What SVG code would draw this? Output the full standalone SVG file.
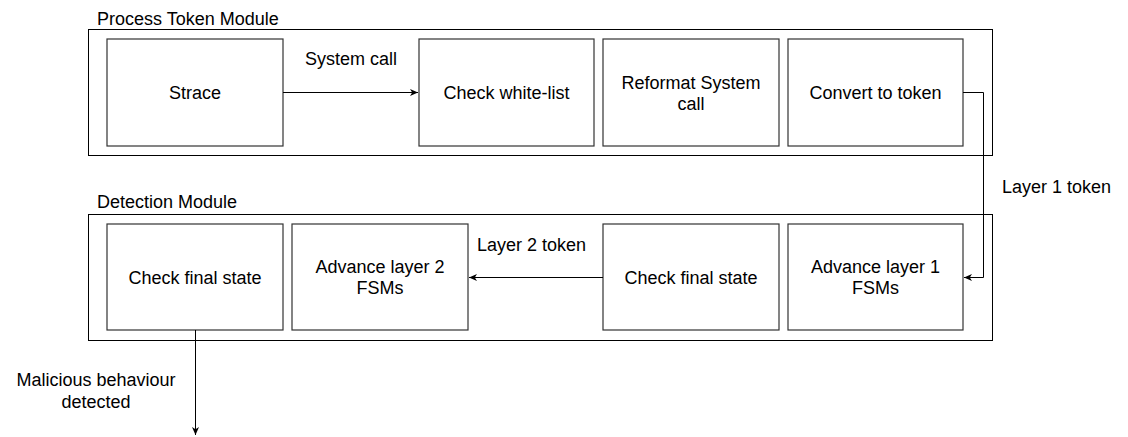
<svg xmlns="http://www.w3.org/2000/svg" width="1128" height="437" viewBox="0 0 1128 437">
  <style>
    text { font-family: "Liberation Sans", Arial, Helvetica, sans-serif; font-size: 18px; fill: #000; }
    .mid { text-anchor: middle; }
    .module { fill: none; stroke: #000; stroke-width: 1; }
    .box { fill: #fff; stroke: #333; stroke-width: 1.2; }
    .edge { fill: none; stroke: #000; stroke-width: 1; }
  </style>
  <defs>
    <marker id="arrow" markerUnits="userSpaceOnUse" markerWidth="10" markerHeight="8" refX="8" refY="4" orient="auto">
      <path d="M0,0.5 L8,4 L0,7.5 L2.2,4 Z" fill="#000"/>
    </marker>
  </defs>

  <!-- module containers -->
  <g id="process-token-module">
    <rect class="module" x="88.5" y="29.5" width="904" height="126"/>
    <text x="97" y="25">Process Token Module</text>
  </g>
  <g id="detection-module">
    <rect class="module" x="88.5" y="214.5" width="904" height="126"/>
    <text x="97" y="208">Detection Module</text>
  </g>

  <!-- process token nodes -->
  <g id="strace">
    <rect class="box" x="107" y="39" width="176" height="107"/>
    <text class="mid" x="195" y="99">Strace</text>
  </g>
  <g id="check-whitelist">
    <rect class="box" x="419" y="39" width="175" height="107"/>
    <text class="mid" x="506.5" y="99">Check white-list</text>
  </g>
  <g id="reformat">
    <rect class="box" x="603" y="39" width="176" height="107"/>
    <text class="mid" x="691" y="88.5">Reformat System</text>
    <text class="mid" x="691" y="109.5">call</text>
  </g>
  <g id="convert">
    <rect class="box" x="788" y="39" width="175" height="107"/>
    <text class="mid" x="875.5" y="99">Convert to token</text>
  </g>

  <!-- detection nodes -->
  <g id="check-final-2">
    <rect class="box" x="107" y="224" width="176" height="106"/>
    <text class="mid" x="195" y="283.5">Check final state</text>
  </g>
  <g id="advance-layer-2">
    <rect class="box" x="292" y="224" width="176" height="106"/>
    <text class="mid" x="380" y="273">Advance layer 2</text>
    <text class="mid" x="380" y="294">FSMs</text>
  </g>
  <g id="check-final-1">
    <rect class="box" x="603" y="224" width="176" height="106"/>
    <text class="mid" x="691" y="283.5">Check final state</text>
  </g>
  <g id="advance-layer-1">
    <rect class="box" x="788" y="224" width="175" height="106"/>
    <text class="mid" x="875.5" y="273">Advance layer 1</text>
    <text class="mid" x="875.5" y="294">FSMs</text>
  </g>

  <!-- connectors -->
  <g id="connectors">
    <path class="edge" d="M283,92.5 H418" marker-end="url(#arrow)"/>
    <text class="mid" x="351" y="65">System call</text>

    <path class="edge" d="M963,92.5 H983.5 V277.5 H964" marker-end="url(#arrow)"/>
    <text x="1002" y="193">Layer 1 token</text>

    <path class="edge" d="M603,277.5 H469" marker-end="url(#arrow)"/>
    <text x="477" y="251">Layer 2 token</text>

    <path class="edge" d="M195.5,330 V435" marker-end="url(#arrow)"/>
    <text class="mid" x="96" y="386">Malicious behaviour</text>
    <text class="mid" x="96" y="407.5">detected</text>
  </g>
</svg>
